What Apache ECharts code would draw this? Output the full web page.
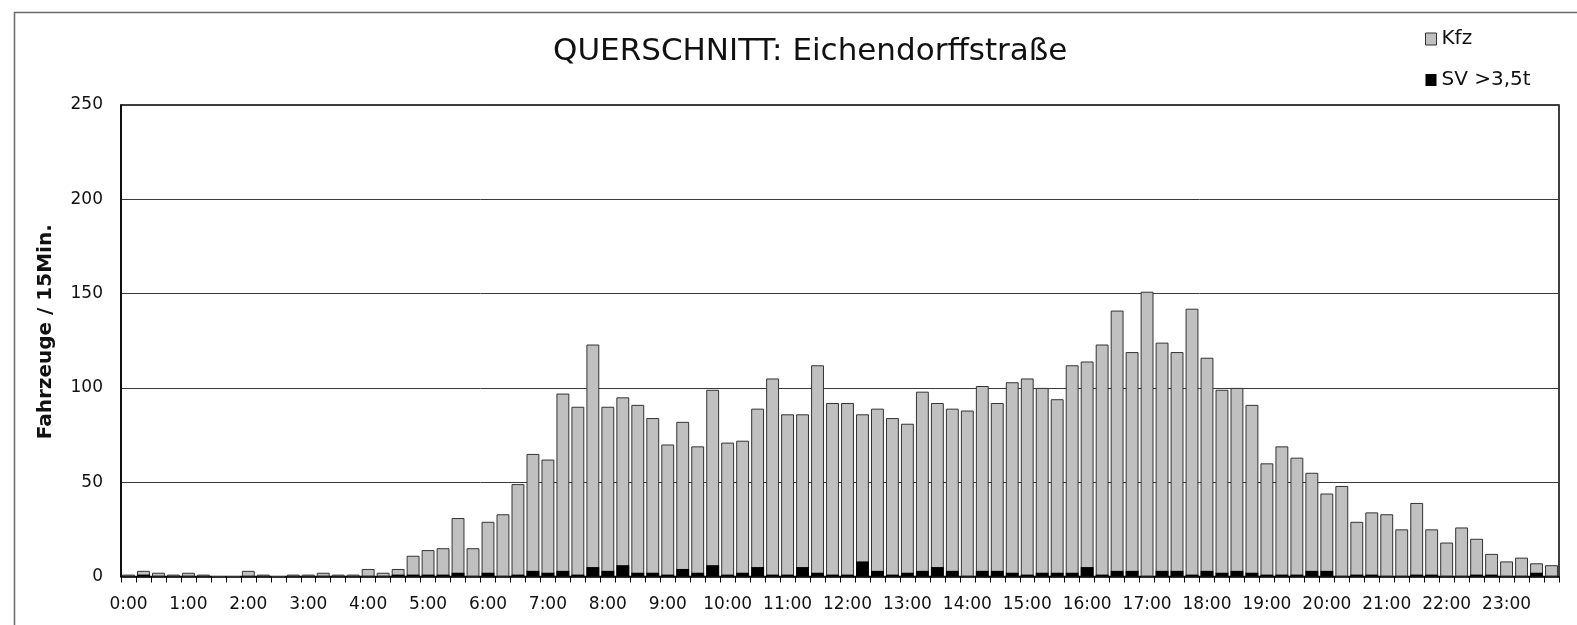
<!DOCTYPE html>
<html>
<head>
<meta charset="utf-8">
<script src="https://cdn.jsdelivr.net/npm/echarts@6/dist/echarts.min.js"></script>
<style>
  html, body { margin: 0; padding: 0; background: #fff; }
  #chart { width: 1577px; height: 625px; }
</style>
</head>
<body>
<div id="chart"></div>
<script>
// 15-minute intervals over one day
const categories = [];
for (let h = 0; h < 24; h++) {
  for (let m = 0; m < 60; m += 15) {
    categories.push(h + ':' + (m < 10 ? '0' + m : m));
  }
}

// All vehicles per 15 min
const kfz = [
  1, 3, 2, 1, 2, 1, 0, 0, 3, 1,
  0, 1, 1, 2, 1, 1, 4, 2, 4, 11,
  14, 15, 31, 15, 29, 33, 49, 65, 62, 97,
  90, 123, 90, 95, 91, 84, 70, 82, 69, 99,
  71, 72, 89, 105, 86, 86, 112, 92, 92, 86,
  89, 84, 81, 98, 92, 89, 88, 101, 92, 103,
  105, 100, 94, 112, 114, 123, 141, 119, 151, 124,
  119, 142, 116, 99, 100, 91, 60, 69, 63, 55,
  44, 48, 29, 34, 33, 25, 39, 25, 18, 26,
  20, 12, 8, 10, 7, 6
];

// Heavy vehicles > 3.5 t per 15 min
const sv = [
  0, 1, 0, 0, 0, 0, 0, 0, 0, 0,
  0, 0, 0, 0, 0, 0, 0, 0, 1, 1,
  1, 1, 2, 0, 2, 0, 1, 3, 2, 3,
  1, 5, 3, 6, 2, 2, 1, 4, 2, 6,
  1, 2, 5, 1, 1, 5, 2, 1, 1, 8,
  3, 1, 2, 3, 5, 3, 0, 3, 3, 2,
  1, 2, 2, 2, 5, 1, 3, 3, 0, 3,
  3, 1, 3, 2, 3, 2, 1, 1, 1, 3,
  3, 0, 1, 1, 0, 0, 1, 1, 0, 0,
  1, 1, 0, 0, 2, 0
];

const yTicks = [0, 50, 100, 150, 200, 250];

const FONT = '"DejaVu Sans", sans-serif';
const chart = echarts.init(document.getElementById('chart'), null, { renderer: 'canvas' });

chart.setOption({
  backgroundColor: '#ffffff',
  animation: false,
  textStyle: { fontFamily: FONT },
  graphic: [{
    type: 'rect',
    silent: true,
    z: -10,
    shape: { x: 14.5, y: 12.5, width: 1700, height: 700 },
    style: { fill: 'none', stroke: '#6a6a6a', lineWidth: 1.5 }
  }],
  title: {
    text: 'QUERSCHNITT: Eichendorffstraße',
    left: 548,
    top: 31,
    textStyle: { fontFamily: FONT, fontSize: 31, fontWeight: 'normal', color: '#111' }
  },
  legend: {
    orient: 'vertical',
    left: 1420,
    top: 24,
    itemWidth: 11,
    itemHeight: 12,
    itemGap: 21,
    icon: 'rect',
    textStyle: { fontFamily: FONT, fontSize: 20, color: '#111' },
    data: [
      { name: 'Kfz', itemStyle: { color: '#c0c0c0', borderColor: '#333', borderWidth: 1 } },
      { name: 'SV >3,5t', itemStyle: { color: '#000' } }
    ]
  },
  grid: {
    left: 121, right: 18, top: 105, bottom: 48.5,
    show: true, borderColor: '#000', borderWidth: 1.5, backgroundColor: 'transparent'
  },
  xAxis: {
    type: 'category',
    data: categories,
    boundaryGap: true,
    axisLine: { show: true, lineStyle: { color: '#000', width: 1.5 } },
    axisTick: { show: true, interval: 0, length: 6, lineStyle: { color: '#000', width: 1 } },
    axisLabel: { interval: 3, margin: 20, fontFamily: FONT, fontSize: 17, color: '#111' }
  },
  yAxis: {
    type: 'value',
    min: yTicks[0],
    max: yTicks[yTicks.length - 1],
    interval: 50,
    name: 'Fahrzeuge / 15Min.',
    nameLocation: 'middle',
    nameGap: 65,
    nameRotate: 90,
    nameTextStyle: { fontFamily: FONT, fontSize: 20, fontWeight: 'bold', color: '#111', padding: [0, 0, 0, 18] },
    axisLine: { show: true, lineStyle: { color: '#000', width: 1.5 } },
    axisTick: { show: false },
    axisLabel: { margin: 18, fontFamily: FONT, fontSize: 17, color: '#111' },
    splitLine: { show: true, lineStyle: { color: '#3a3a3a', width: 1 } }
  },
  series: [
    {
      name: 'Kfz',
      type: 'bar',
      data: kfz,
      barCategoryGap: '14%',
      barGap: '-100%',
      itemStyle: { color: '#c0c0c0', borderColor: '#333', borderWidth: 1 },
      z: 2
    },
    {
      name: 'SV >3,5t',
      type: 'bar',
      data: sv,
      barCategoryGap: '14%',
      barGap: '-100%',
      itemStyle: { color: '#000' },
      z: 3
    }
  ]
});
</script>
</body>
</html>
